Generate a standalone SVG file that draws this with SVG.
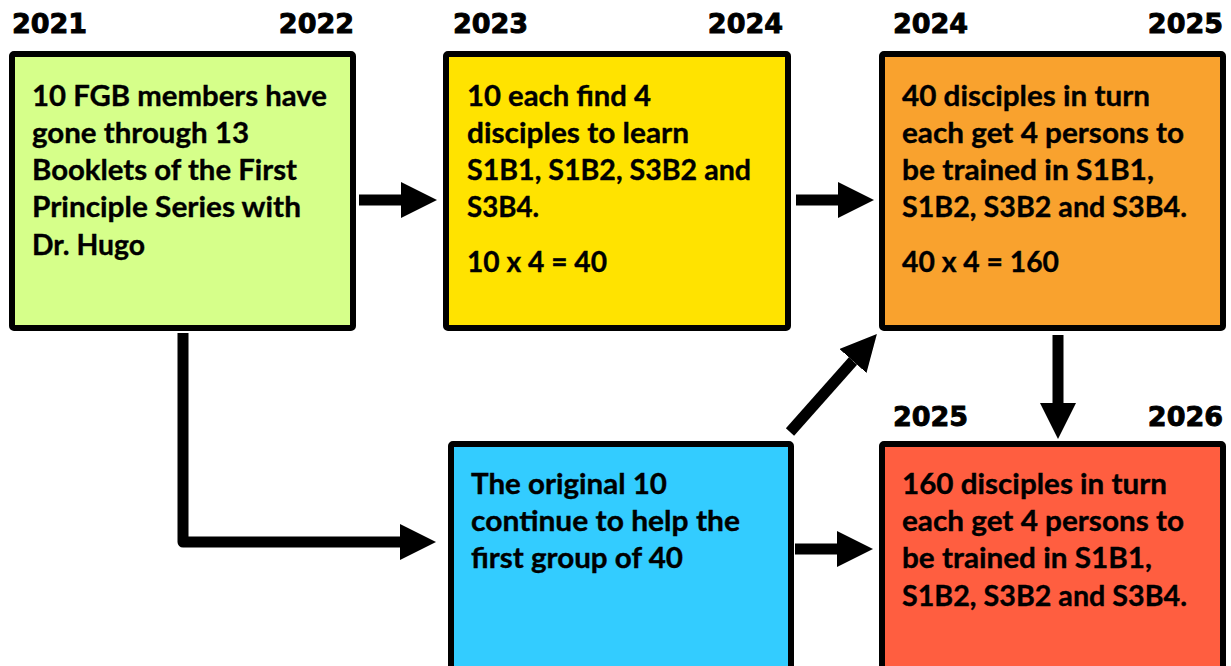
<svg xmlns="http://www.w3.org/2000/svg" width="1231" height="666" viewBox="0 0 1231 666">
<style>
  .box { stroke: #000; stroke-width: 6; }
  .yr { font-family: "DejaVu Sans", "Liberation Sans", sans-serif; font-weight: bold; font-size: 27px; fill: #000; stroke: #000; stroke-width: 0.9; }
  .t { font-family: Lato, "Open Sans", "Liberation Sans", sans-serif; font-weight: bold; font-size: 28px; fill: #000; stroke: #000; stroke-width: 0.35; }
  .conn { stroke: #000; stroke-width: 11; fill: none; stroke-linejoin: round; }
</style>
<defs>
  <marker id="ah" viewBox="0 0 36 36" markerWidth="36" markerHeight="36" markerUnits="userSpaceOnUse" refX="0" refY="18" orient="auto">
    <path d="M0,0 L36,18 L0,36 z" fill="#000"/>
  </marker>
</defs>
<rect width="1231" height="666" fill="#fff"/>

<g id="node-2021">
  <rect class="box" x="12" y="54" width="341" height="274" rx="2" fill="#D6FF8A"/>
  <text class="yr" x="12" y="33">2021</text>
  <text class="yr" x="354" y="33" text-anchor="end">2022</text>
  <text class="t" x="32" y="106" textLength="295" lengthAdjust="spacingAndGlyphs">10 FGB members have</text>
  <text class="t" x="32" y="143" textLength="217" lengthAdjust="spacingAndGlyphs">gone through 13</text>
  <text class="t" x="32" y="180" textLength="265" lengthAdjust="spacingAndGlyphs">Booklets of the First</text>
  <text class="t" x="32" y="217" textLength="269" lengthAdjust="spacingAndGlyphs">Principle Series with</text>
  <text class="t" x="32" y="255" textLength="113" lengthAdjust="spacingAndGlyphs">Dr. Hugo</text>
</g>

<g id="node-2023">
  <rect class="box" x="446" y="54" width="342" height="274" rx="2" fill="#FFE300"/>
  <text class="yr" x="453" y="33">2023</text>
  <text class="yr" x="783" y="33" text-anchor="end">2024</text>
  <text class="t" x="467" y="106" textLength="184" lengthAdjust="spacingAndGlyphs">10 each find 4</text>
  <text class="t" x="467" y="143" textLength="222" lengthAdjust="spacingAndGlyphs">disciples to learn</text>
  <text class="t" x="467" y="180" textLength="284" lengthAdjust="spacingAndGlyphs">S1B1, S1B2, S3B2 and</text>
  <text class="t" x="467" y="217" textLength="72" lengthAdjust="spacingAndGlyphs">S3B4.</text>
  <text class="t" x="467" y="272" textLength="140" lengthAdjust="spacingAndGlyphs">10 x 4 = 40</text>
</g>

<g id="node-2024">
  <rect class="box" x="882" y="54" width="341" height="274" rx="2" fill="#F9A22E"/>
  <text class="yr" x="893" y="33">2024</text>
  <text class="yr" x="1223" y="33" text-anchor="end">2025</text>
  <text class="t" x="902" y="106" textLength="248" lengthAdjust="spacingAndGlyphs">40 disciples in turn</text>
  <text class="t" x="902" y="143" textLength="282" lengthAdjust="spacingAndGlyphs">each get 4 persons to</text>
  <text class="t" x="902" y="180" textLength="252" lengthAdjust="spacingAndGlyphs">be trained in S1B1,</text>
  <text class="t" x="902" y="217" textLength="285" lengthAdjust="spacingAndGlyphs">S1B2, S3B2 and S3B4.</text>
  <text class="t" x="902" y="272" textLength="157" lengthAdjust="spacingAndGlyphs">40 x 4 = 160</text>
</g>

<g id="node-original">
  <rect class="box" x="451" y="444" width="340" height="240" rx="2" fill="#33CCFF"/>
  <text class="t" x="471" y="494" textLength="196" lengthAdjust="spacingAndGlyphs">The original 10</text>
  <text class="t" x="471" y="531" textLength="269" lengthAdjust="spacingAndGlyphs">continue to help the</text>
  <text class="t" x="471" y="568" textLength="212" lengthAdjust="spacingAndGlyphs">first group of 40</text>
</g>

<g id="node-2025">
  <rect class="box" x="882" y="444" width="341" height="240" rx="2" fill="#FF5E40"/>
  <text class="yr" x="893" y="426">2025</text>
  <text class="yr" x="1223" y="426" text-anchor="end">2026</text>
  <text class="t" x="902" y="494" textLength="265" lengthAdjust="spacingAndGlyphs">160 disciples in turn</text>
  <text class="t" x="902" y="531" textLength="282" lengthAdjust="spacingAndGlyphs">each get 4 persons to</text>
  <text class="t" x="902" y="568" textLength="250" lengthAdjust="spacingAndGlyphs">be trained in S1B1,</text>
  <text class="t" x="902" y="606" textLength="285" lengthAdjust="spacingAndGlyphs">S1B2, S3B2 and S3B4.</text>
</g>

<g id="connectors">
  <path class="conn" d="M359,200 H401" marker-end="url(#ah)"/>
  <path class="conn" d="M796,200 H838" marker-end="url(#ah)"/>
  <path class="conn" d="M1058,335 V403" marker-end="url(#ah)"/>
  <path class="conn" d="M795,549 H837" marker-end="url(#ah)"/>
  <path class="conn" d="M790,432 L853,361" marker-end="url(#ah)"/>
  <path class="conn" d="M183,333 V542 H400" marker-end="url(#ah)"/>
</g>
</svg>
